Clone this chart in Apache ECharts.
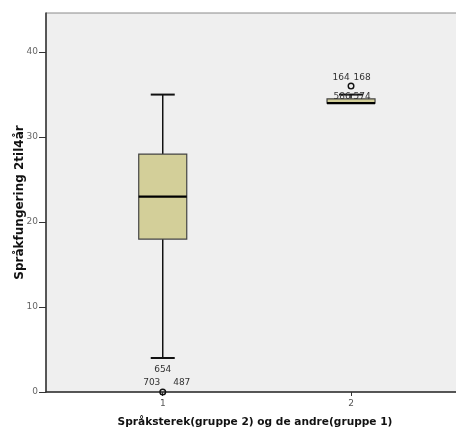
<!DOCTYPE html>
<html>
<head>
<meta charset="utf-8">
<script src="https://cdn.jsdelivr.net/npm/echarts@6/dist/echarts.min.js"></script>
<style>html,body{margin:0;padding:0;background:#fff}#c{width:456px;height:430px}</style>
</head>
<body>
<div id="c"></div>
<script>
// ---- data ----
const groups = [1, 2];
const whiskerLow = [4, 34];
const q1 = [18, 34];
const median = [23, 34];
const q3 = [28, 34.5];
const whiskerHigh = [35, 35];
const outlierGroup = [1, 2];
const outlierValue = [0, 36];
const outlierLabelsAbove = [['654'], ['164', '168']];
const outlierLabelsSide = [['703', '487'], []];
const outlierLabelsBelow = [[], ['586', '574']];
const yTicks = [0, 10, 20, 30, 40];
const xTicks = [1, 2];
const xName = 'Språksterek(gruppe 2) og de andre(gruppe 1)';
const yName = 'Språkfungering 2til4år';

const boxData = groups.map((g, i) => [g, whiskerLow[i], q1[i], median[i], q3[i], whiskerHigh[i]]);
const outData = outlierGroup.map((g, i) => [g, outlierValue[i], i]);

const FONT = 'DejaVu Sans';
const boxW = 0.255;

const chart = echarts.init(document.getElementById('c'), null, {renderer: 'canvas'});
chart.setOption({
  animation: false,
  backgroundColor: '#ffffff',
  grid: {left: 46, top: 13, width: 418, height: 379, containLabel: false, outerBoundsMode: 'none',
    show: true, backgroundColor: '#efefef', borderColor: '#8a8a8a', borderWidth: 1},
  xAxis: {
    type: 'value', min: 0.38, max: 2.6,
    name: xName, nameLocation: 'middle', nameGap: 25, nameMoveOverlap: false,
    nameTextStyle: {fontFamily: FONT, fontWeight: 'bold', fontSize: 10.6, color: '#111'},
    axisLine: {show: true, lineStyle: {color: '#333', width: 1.5}},
    axisTick: {show: true, length: 4, customValues: xTicks, lineStyle: {color: '#333'}},
    axisLabel: {customValues: xTicks, fontFamily: FONT, fontSize: 9, color: '#555', margin: 7},
    splitLine: {show: false}
  },
  yAxis: {
    type: 'value', min: 0, max: 44.6,
    name: yName, nameLocation: 'middle', nameGap: 20, nameMoveOverlap: false,
    nameTextStyle: {fontFamily: FONT, fontWeight: 'bold', fontSize: 12, color: '#111'},
    axisLine: {show: true, lineStyle: {color: '#333', width: 1.5}},
    axisTick: {show: true, length: 7, customValues: yTicks, lineStyle: {color: '#333'}},
    axisLabel: {customValues: yTicks, fontFamily: FONT, fontSize: 9, color: '#666', margin: 8},
    splitLine: {show: false}
  },
  series: [
    {
      type: 'custom',
      data: boxData,
      renderItem: function (params, api) {
        const x = api.value(0);
        const lo = api.value(1), a = api.value(2), m = api.value(3), b = api.value(4), hi = api.value(5);
        const w = api.size([boxW, 0])[0];
        const cx = api.coord([x, 0])[0];
        const yLo = api.coord([x, lo])[1], yA = api.coord([x, a])[1], yM = api.coord([x, m])[1];
        const yB = api.coord([x, b])[1], yHi = api.coord([x, hi])[1];
        const ls = {stroke: '#111', lineWidth: 1.5};
        const ch = [];
        if (hi > b) {
          ch.push({type: 'line', shape: {x1: cx, y1: yB, x2: cx, y2: yHi}, style: ls});
          ch.push({type: 'line', shape: {x1: cx - w / 4, y1: yHi, x2: cx + w / 4, y2: yHi}, style: {stroke: '#111', lineWidth: 2}});
        }
        if (lo < a) {
          ch.push({type: 'line', shape: {x1: cx, y1: yA, x2: cx, y2: yLo}, style: ls});
          ch.push({type: 'line', shape: {x1: cx - w / 4, y1: yLo, x2: cx + w / 4, y2: yLo}, style: {stroke: '#111', lineWidth: 2}});
        }
        ch.push({type: 'rect', shape: {x: cx - w / 2, y: yB, width: w, height: Math.max(yA - yB, 1)},
          style: {fill: '#d3cf99', stroke: '#444', lineWidth: 1.2}});
        ch.push({type: 'line', shape: {x1: cx - w / 2, y1: yM, x2: cx + w / 2, y2: yM}, style: {stroke: '#000', lineWidth: 2.2}});
        return {type: 'group', children: ch};
      },
      z: 3
    },
    {
      type: 'custom',
      data: outData,
      renderItem: function (params, api) {
        const i = api.value(2);
        const p = api.coord([api.value(0), api.value(1)]);
        const ch = [{type: 'circle', shape: {cx: p[0], cy: p[1], r: 2.8}, style: {fill: 'none', stroke: '#111', lineWidth: 1.4}}];
        const ts = (t, x, y) => ({type: 'text', x: x, y: y, style: {text: t, fontFamily: FONT, fontSize: 9, fill: '#333', align: 'center', verticalAlign: 'middle'}});
        const side = outlierLabelsSide[i];
        if (side.length) { ch.push(ts(side[0], p[0] - 11, p[1] - 9)); ch.push(ts(side[1], p[0] + 19, p[1] - 9)); }
        const above = outlierLabelsAbove[i];
        if (above.length === 1) ch.push(ts(above[0], p[0], p[1] - 22));
        if (above.length === 2) { ch.push(ts(above[0], p[0] - 10, p[1] - 8)); ch.push(ts(above[1], p[0] + 11, p[1] - 8)); }
        const below = outlierLabelsBelow[i];
        if (below.length === 2) { ch.push(ts(below[0], p[0] - 9, p[1] + 11)); ch.push(ts(below[1], p[0] + 11, p[1] + 11)); }
        return {type: 'group', children: ch};
      },
      z: 4
    }
  ]
});
</script>
</body>
</html>
